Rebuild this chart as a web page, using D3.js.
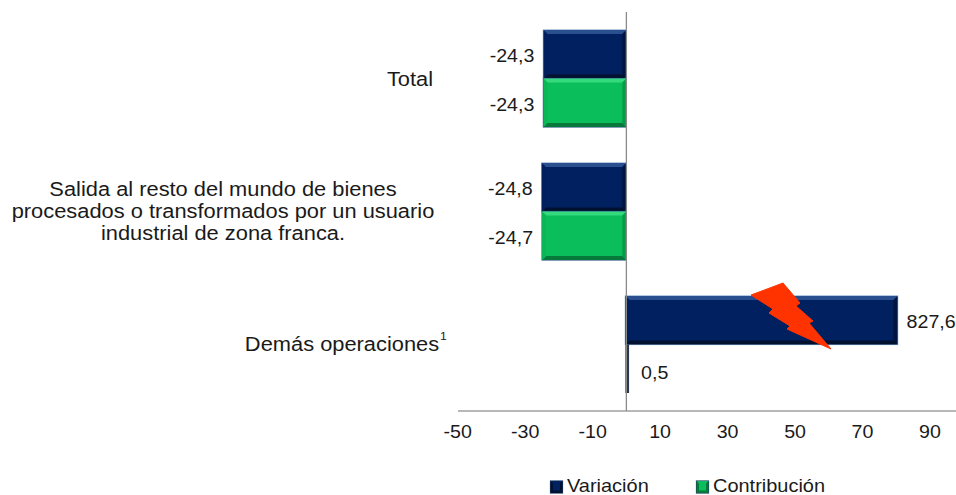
<!DOCTYPE html>
<html>
<head>
<meta charset="utf-8">
<script src="https://cdn.jsdelivr.net/npm/d3@7"></script>
<style>
  html, body { margin: 0; background: #fff; }
  text { font-family: "Liberation Sans", Arial, sans-serif; fill: #1a1a1a; }
</style>
</head>
<body>
<svg width="956" height="495"></svg>
<script>
// chart values
var categories = ["Total", "Salida", "Demas"];
var seriesNames = ["Variación", "Contribución"];
var variacion = [-24.3, -24.8, 80.4];      // last bar is cut off by the axis, its label says 827,6
var contribucion = [-24.3, -24.7, 0.5];
var variacionLabels = ["-24,3", "-24,8", "827,6"];
var contribucionLabels = ["-24,3", "-24,7", "0,5"];
var xTicks = [-50, -30, -10, 10, 30, 50, 70, 90];
var categoryLines = [
  ["Total"],
  ["Salida al resto del mundo de bienes", "procesados o transformados por un usuario", "industrial de zona franca."],
  ["Demás operaciones"]
];
// the red lightning bolt drawn on top of the truncated bar (a decoration in px, not data)
var bolt = [[751,295],[783,283],[800,303],[796,306],[813,321],[809,323],[831,349],[787,329],[790,326],[769,313],[773,309]];

var svg = d3.select("svg");

var xScale = d3.scaleLinear().domain([-50, 90]).range([457.7, 930]);
var yScale = d3.scaleBand().domain(categories).range([12, 411]);
var inner = d3.scaleBand().domain(seriesNames).range([18, 115]);

var colors = {
  "Variación": { main: "#002060", top: "#2a4f8f", bottom: "#00102f", side: "#001f5c", right: "#00143c", edge: "#7fa8d0" },
  "Contribución": { main: "#0abf5b", top: "#35d97e", bottom: "#077a3b", side: "#0ab657", right: "#079a49", edge: "#34608f" }
};

// stretched text, the original picture is a bit wider than tall
function label(x, y, txt, anchor, size, stretch) {
  return svg.append("text")
    .attr("transform", "translate(" + x + "," + y + ") scale(" + (stretch || 1.05) + ",1)")
    .attr("text-anchor", anchor || "middle")
    .style("font-size", (size || 18.7) + "px")
    .text(txt);
}

// axes
var xAxis = svg.append("g")
  .attr("transform", "translate(0,411)")
  .call(d3.axisBottom(xScale).tickValues(xTicks).tickSize(0).tickFormat(function (d) { return d; }));
xAxis.select(".domain").remove();
xAxis.selectAll("text").remove();
svg.append("line").attr("x1", 458).attr("x2", 956).attr("y1", 411).attr("y2", 411)
  .attr("stroke", "#a0a0a0").attr("stroke-width", 1.3);
xTicks.forEach(function (t) { label(xScale(t), 437.5, t); });

// one bevelled bar
function drawBar(g, x0, x1, y, h, c, bevel) {
  var b = bevel || 4;
  if (x1 - x0 < 8) {
    g.append("rect").attr("x", x0).attr("y", y).attr("width", x1 - x0 + 1).attr("height", h).attr("fill", "#2a3550");
    return;
  }
  g.append("rect").attr("x", x0).attr("y", y).attr("width", x1 - x0).attr("height", h)
    .attr("fill", c.main).attr("stroke", c.edge).attr("stroke-width", 1.2);
  g.append("polygon").attr("fill", c.top)
    .attr("points", [[x0, y], [x1, y], [x1 - b, y + b], [x0 + b, y + b]].join(" "));
  g.append("polygon").attr("fill", c.bottom)
    .attr("points", [[x0, y + h], [x1, y + h], [x1 - b, y + h - b], [x0 + b, y + h - b]].join(" "));
  g.append("polygon").attr("fill", c.side)
    .attr("points", [[x0, y], [x0 + b, y + b], [x0 + b, y + h - b], [x0, y + h]].join(" "));
  g.append("polygon").attr("fill", c.right)
    .attr("points", [[x1, y], [x1 - b, y + b], [x1 - b, y + h - b], [x1, y + h]].join(" "));
}

var bars = svg.append("g");
[[variacion, variacionLabels, "Variación"], [contribucion, contribucionLabels, "Contribución"]].forEach(function (s) {
  categories.forEach(function (cat, i) {
    var v = s[0][i];
    var x0 = Math.min(xScale(0), xScale(v)) - 1, x1 = Math.max(xScale(0), xScale(v));
    var y = yScale(cat) + inner(s[2]);
    drawBar(bars, x0, x1, y, inner.bandwidth(), colors[s[2]]);
    var cy = y + inner.bandwidth() / 2 + 8;
    if (v < 0) label(x0 - 9, cy, s[1][i], "end");
    else if (x1 - x0 < 8) label(x1 + 13, cy + 2, s[1][i], "start");
    else label(x1 + 9, cy, s[1][i], "start");
  });
});

// vertical axis over the bars
svg.append("line").attr("x1", xScale(0)).attr("x2", xScale(0)).attr("y1", 12).attr("y2", 411)
  .attr("stroke", "#8a8a8a").attr("stroke-width", 1.3);

// category labels
var lineY = [[86], [196, 218, 240], [351]];
var lineX = [410, 223, 342];
categoryLines.forEach(function (lines, i) {
  lines.forEach(function (t, j) { label(lineX[i], lineY[i][j], t, "middle", 19.6, 1.115); });
});
label(440, 340, "1", "start", 11, 1.1);

// bolt
svg.append("polygon").attr("points", bolt.join(" "))
  .attr("fill", "#ff3300").attr("stroke", "#ff3300").attr("stroke-width", 1).attr("stroke-linejoin", "round");

// legend
var legendX = [550.5, 696.5];
seriesNames.forEach(function (name, i) {
  var c = colors[name];
  drawBar(svg, legendX[i], legendX[i] + 12, 481, 12, { main: c.main, top: c.main, bottom: c.bottom, side: c.bottom, right: c.bottom, edge: "#1f3f66" }, 2.5);
  label(legendX[i] + 16.5, 492, name, "start", 18, 1.11);
});
</script>
</body>
</html>
